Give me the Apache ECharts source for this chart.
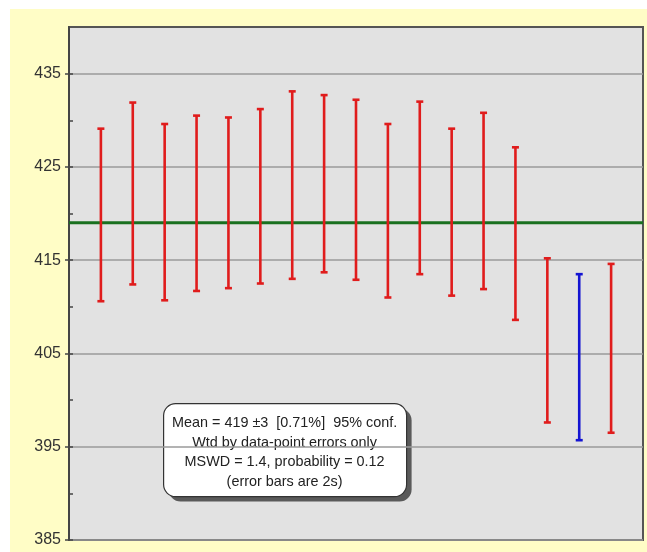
<!DOCTYPE html>
<html>
<head>
<meta charset="utf-8">
<script src="https://cdn.jsdelivr.net/npm/echarts@6/dist/echarts.min.js"></script>
<style>
  html, body { margin: 0; padding: 0; background: #fff; }
  #chart { width: 647px; height: 552px; }
</style>
</head>
<body>
<div id="chart"></div>
<script>
// Analysis number of each age determination
const points = [1, 2, 3, 4, 5, 6, 7, 8, 9, 10, 11, 12, 13, 14, 15, 16, 17];
// Upper and lower ends of the 2s error bars (Ma)
const upper = [429.1, 431.9, 429.6, 430.5, 430.3, 431.2, 433.1, 432.7, 432.2, 429.6, 432.0, 429.1, 430.8, 427.1, 415.2, 413.5, 414.6];
const lower = [410.6, 412.4, 410.7, 411.7, 412.0, 412.5, 413.0, 413.7, 412.9, 411.0, 413.5, 411.2, 411.9, 408.6, 397.6, 395.7, 396.5];
// Points drawn in blue
const highlighted = [16];
// Weighted mean
const weightedMean = 419;
// Y axis tick labels and the minor ticks between them
const yTicks = [385, 395, 405, 415, 425, 435];
const yMinorTicks = [390, 400, 410, 420, 430];
const statsLines = [
  'Mean = 419 \u00b13  [0.71%]  95% conf.',
  'Wtd by data-point errors only',
  'MSWD = 1.4, probability = 0.12',
  '(error bars are 2s)'
];

const barData = points.map((p, i) => [p, lower[i], upper[i]]);

const chart = echarts.init(document.getElementById('chart'), null, { renderer: 'canvas' });

chart.setOption({
  backgroundColor: '#ffffff',
  animation: false,
  graphic: [
    {
      type: 'rect', z: -10, silent: true,
      shape: { x: 10, y: 9, width: 637, height: 543 },
      style: { fill: '#fffdc6' }
    },
    {
      type: 'group', z: 100, left: 163, top: 403,
      children: [
        { type: 'rect', shape: { x: 5, y: 5, width: 243, height: 93, r: 12 }, style: { fill: '#5a5a5a' } },
        { type: 'rect', shape: { x: 0, y: 0, width: 243, height: 93, r: 12 }, style: { fill: '#ffffff', stroke: '#333333', lineWidth: 1.2 } },
        {
          type: 'text', x: 121, y: 10,
          style: {
            text: statsLines.join('\n'),
            font: '14.4px "Liberation Sans", Arial, sans-serif',
            fill: '#222222',
            align: 'center',
            verticalAlign: 'top',
            lineHeight: 19.5
          }
        }
      ]
    }
  ],
  grid: {
    left: 69, right: 4, top: 27, bottom: 12,
    show: true,
    backgroundColor: '#e2e2e2',
    borderColor: '#555555',
    borderWidth: 2
  },
  xAxis: {
    type: 'value', min: 0, max: 18, show: false
  },
  yAxis: [
    {
      type: 'value', min: 385, max: 440, interval: 10,
      axisLine: { show: true, lineStyle: { color: '#444444', width: 2 } },
      axisTick: { show: true, length: 4, customValues: yTicks, lineStyle: { color: '#444444', width: 1.5 } },
      axisLabel: {
        color: '#333333', fontSize: 16, margin: 8,
        fontFamily: '"Liberation Sans", Arial, sans-serif',
        customValues: yTicks
      },
      splitLine: { show: true, lineStyle: { color: '#9a9a9a', width: 1.5 } }
    },
    {
      type: 'value', min: 385, max: 440, interval: 5, position: 'left',
      axisLine: { show: false },
      axisTick: { show: true, inside: true, length: 4, customValues: yTicks.concat(yMinorTicks), lineStyle: { color: '#444444', width: 1.5 } },
      axisLabel: { show: false },
      splitLine: { show: false }
    }
  ],
  series: [
    {
      type: 'line',
      data: [[0, weightedMean], [18, weightedMean]],
      symbol: 'none',
      lineStyle: { color: '#19701f', width: 3 },
      z: 3
    },
    {
      type: 'custom',
      z: 4,
      data: barData,
      encode: { x: 0, y: [1, 2] },
      renderItem: (params, api) => {
        const x = api.value(0);
        const lo = api.coord([x, api.value(1)]);
        const hi = api.coord([x, api.value(2)]);
        const color = highlighted.includes(x) ? '#1414d2' : '#e01c1c';
        const cap = 3.5;
        const style = { stroke: color, lineWidth: 2.6 };
        return {
          type: 'group',
          children: [
            { type: 'line', shape: { x1: lo[0], y1: lo[1], x2: hi[0], y2: hi[1] }, style },
            { type: 'line', shape: { x1: hi[0] - cap, y1: hi[1], x2: hi[0] + cap, y2: hi[1] }, style },
            { type: 'line', shape: { x1: lo[0] - cap, y1: lo[1], x2: lo[0] + cap, y2: lo[1] }, style }
          ]
        };
      }
    }
  ]
});
</script>
</body>
</html>
